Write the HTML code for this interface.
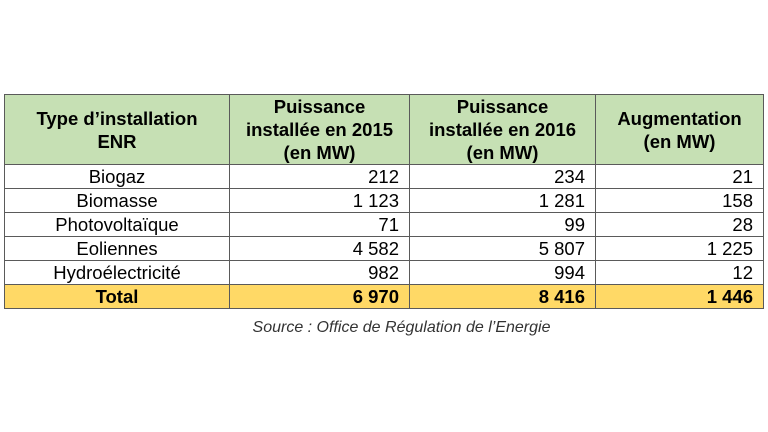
<!DOCTYPE html>
<html><head><meta charset="utf-8"><style>
body{margin:0;width:768px;height:432px;background:#fff;font-family:"Liberation Sans",Arial,sans-serif;position:relative;overflow:hidden}
table{position:absolute;left:4px;top:94px;border-collapse:collapse;table-layout:fixed;width:759px}
td{border:1px solid #5a5a5a;padding:0 6px;font-size:18.5px;color:#000;height:24px;line-height:22px;box-sizing:border-box;white-space:nowrap}
tr.h td{background:#c6e0b4;font-weight:bold;text-align:center;height:70px;line-height:23px;font-size:18.5px}
td.l{text-align:center}
td.r{text-align:right;padding-right:10px}
tr.t td{background:#ffd966;font-weight:bold}
.src{position:absolute;top:319px;left:0;width:803px;text-align:center;font-style:italic;font-size:16px;color:#333}
</style></head><body>
<table>
<colgroup><col style="width:225px"><col style="width:180px"><col style="width:186px"><col style="width:168px"></colgroup>
<tr class="h"><td>Type d’installation<br>ENR</td><td>Puissance<br>installée en 2015<br>(en MW)</td><td>Puissance<br>installée en 2016<br>(en MW)</td><td>Augmentation<br>(en MW)</td></tr>
<tr><td class="l">Biogaz</td><td class="r">212</td><td class="r">234</td><td class="r">21</td></tr>
<tr><td class="l">Biomasse</td><td class="r">1 123</td><td class="r">1 281</td><td class="r">158</td></tr>
<tr><td class="l">Photovoltaïque</td><td class="r">71</td><td class="r">99</td><td class="r">28</td></tr>
<tr><td class="l">Eoliennes</td><td class="r">4 582</td><td class="r">5 807</td><td class="r">1 225</td></tr>
<tr><td class="l">Hydroélectricité</td><td class="r">982</td><td class="r">994</td><td class="r">12</td></tr>
<tr class="t"><td class="l">Total</td><td class="r">6 970</td><td class="r">8 416</td><td class="r">1 446</td></tr>
</table>
<div class="src">Source : Office de Régulation de l’Energie</div>
</body></html>
